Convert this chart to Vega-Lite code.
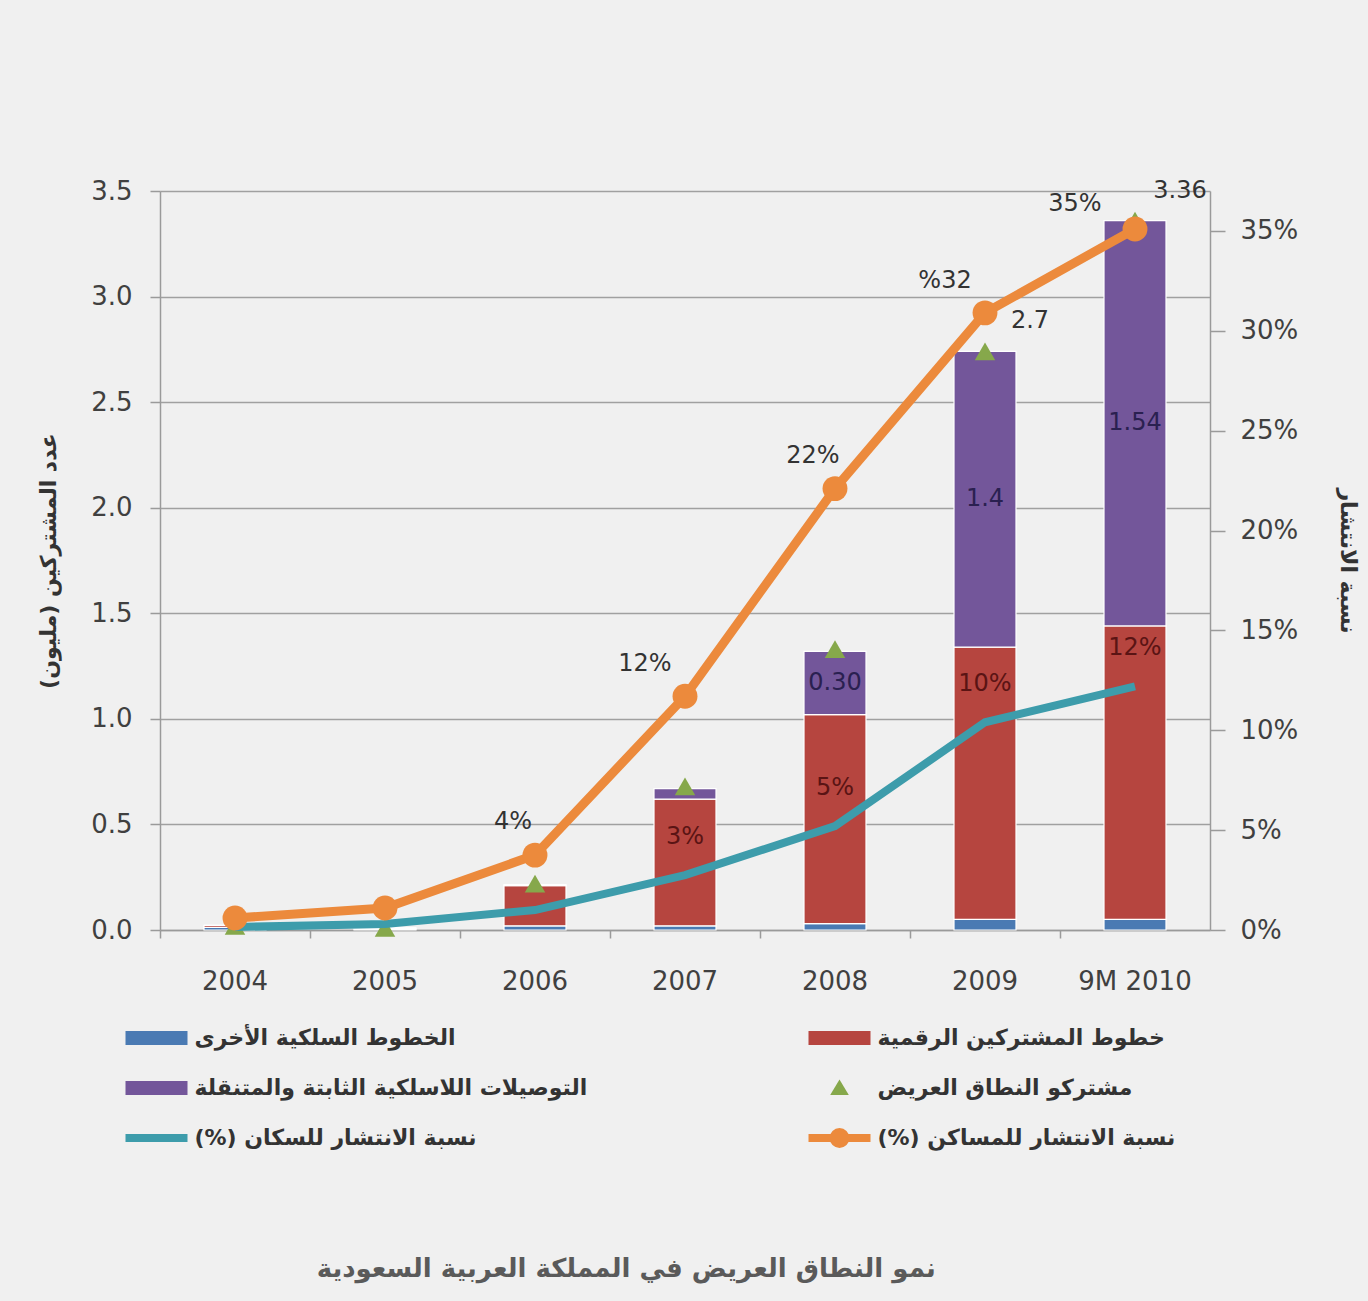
{
  "$schema": "https://vega.github.io/schema/vega-lite/v6.json",
  "width": 1050,
  "height": 739,
  "autosize": {"type": "none"},
  "padding": {"left": 160, "top": 191, "right": 158, "bottom": 371},
  "background": "#f0f0f0",
  "config": {
    "view": {"stroke": null},
    "font": "DejaVu Sans",
    "axis": {
      "labelFont": "DejaVu Sans", "labelFontSize": 26, "labelColor": "#404040",
      "titleFont": "DejaVu Sans", "titleFontSize": 22, "titleColor": "#333333", "titleFontWeight": "bold",
      "domainColor": "#9a9a9a", "tickColor": "#9a9a9a", "gridColor": "#a0a0a0",
      "gridWidth": 1.6, "domainWidth": 1.5, "tickWidth": 1.5
    }
  },
  "title": {
    "text": "نمو النطاق العريض في المملكة العربية السعودية",
    "orient": "bottom", "frame": "bounds", "offset": 93, "anchor": "middle", "dx": -72, "baseline": "top",
    "font": "DejaVu Sans", "fontSize": 26, "fontWeight": "bold", "color": "#5a5a5a"
  },
  "data": {"values": [
    {"year": "2004", "a_other_wired": 0.012, "b_dsl": 0.01, "c_wireless": 0, "total": 0.02, "house": 0.006, "pop": 0.0015},
    {"year": "2005", "a_other_wired": 0.005, "b_dsl": 0.005, "c_wireless": 0, "total": 0.01, "house": 0.011, "pop": 0.003},
    {"year": "2006", "a_other_wired": 0.02, "b_dsl": 0.19, "c_wireless": 0.005, "total": 0.22, "house": 0.0375, "pop": 0.01, "house_label": "4%"},
    {"year": "2007", "a_other_wired": 0.02, "b_dsl": 0.6, "c_wireless": 0.05, "total": 0.68, "house": 0.117, "pop": 0.0275, "house_label": "12%", "pop_label": "3%"},
    {"year": "2008", "a_other_wired": 0.03, "b_dsl": 0.99, "c_wireless": 0.3, "total": 1.33, "house": 0.221, "pop": 0.052, "house_label": "22%", "pop_label": "5%", "wl_label": "0.30"},
    {"year": "2009", "a_other_wired": 0.05, "b_dsl": 1.29, "c_wireless": 1.4, "total": 2.74, "house": 0.309, "pop": 0.104, "house_label": "%32", "pop_label": "10%", "wl_label": "1.4", "total_label": "2.7"},
    {"year": "9M 2010", "a_other_wired": 0.05, "b_dsl": 1.39, "c_wireless": 1.92, "total": 3.36, "house": 0.351, "pop": 0.122, "house_label": "35%", "pop_label": "12%", "wl_label": "1.54", "total_label": "3.36"}
  ]},
  "encoding": {
    "x": {
      "field": "year", "type": "nominal",
      "scale": {"domain": ["2004", "2005", "2006", "2007", "2008", "2009", "9M 2010"], "paddingInner": 0, "paddingOuter": 0},
      "axis": {"title": null, "labelAngle": 0, "bandPosition": 0, "tickSize": 8, "labelPadding": 30, "domain": true, "grid": false}
    }
  },
  "layer": [
    {
      "transform": [{"fold": ["a_other_wired", "b_dsl", "c_wireless"], "as": ["series", "subs"]}],
      "mark": {"type": "bar", "size": 62, "stroke": "#ffffff", "strokeWidth": 1.2},
      "encoding": {
        "y": {
          "field": "subs", "type": "quantitative", "stack": "zero",
          "scale": {"domain": [0, 3.5], "nice": false, "zero": true},
          "axis": {
            "orient": "left", "values": [0, 0.5, 1, 1.5, 2, 2.5, 3, 3.5], "format": ".1f",
            "grid": true, "tickSize": 10, "labelPadding": 18,
            "title": "عدد المشتركين (مليون)‏", "titlePadding": 30
          }
        },
        "color": {
          "field": "series", "type": "nominal",
          "scale": {
            "domain": ["a_other_wired", "b_dsl", "c_wireless", "total", "pop", "house"],
            "range": ["#4a7ab3", "#b6453f", "#73569a", "#86a84b", "#3d9cab", "#ec8a3c"]
          },
          "legend": {
            "title": null, "orient": "none", "legendX": -14.5, "legendY": 836, "direction": "horizontal",
            "columns": 2, "columnPadding": 205, "rowPadding": 0, "padding": 0,
            "symbolSize": 961, "labelOffset": 27,
            "symbolType": {"expr": "datum.value === 'total' ? 'M-2,-1.6M2,1.6M0,-0.55L0.6,0.45L-0.6,0.45Z' : datum.value === 'pop' ? 'M-2,-0.58M2,0.58M-2,0H2' : datum.value === 'house' ? 'M-2,-0.58M2,0.58M-2,0H2M-0.38,0A0.38,0.38 0 1,1 0.38,0A0.38,0.38 0 1,1 -0.38,0Z' : 'M-2,-1.6M2,1.6M-2,-0.45H2V0.45H-2Z'"},
            "symbolStrokeWidth": {"expr": "datum.value === 'pop' || datum.value === 'house' ? 8 : 0"},
            "symbolOpacity": 1,
            "labelFont": "DejaVu Sans", "labelFontSize": 22, "labelFontWeight": "bold", "labelColor": "#333333", "labelLimit": 700,
            "labelExpr": "{'a_other_wired': 'الخطوط السلكية الأخرى', 'b_dsl': 'خطوط المشتركين الرقمية', 'c_wireless': 'التوصيلات اللاسلكية الثابتة والمتنقلة', 'total': 'مشتركو النطاق العريض', 'pop': '(%) نسبة الانتشار للسكان', 'house': '(%) نسبة الانتشار للمساكن'}[datum.label]"
          }
        },
        "order": {"field": "series", "sort": "ascending"}
      }
    },
    {
      "mark": {"type": "point", "shape": "triangle-up", "filled": true, "size": 420, "opacity": 1},
      "encoding": {
        "y": {"field": "total", "type": "quantitative", "scale": {"domain": [0, 3.5], "nice": false}, "axis": null},
        "color": {"datum": "total"}
      }
    },
    {
      "transform": [{"fold": ["a_other_wired", "b_dsl", "c_wireless"], "as": ["series", "subs"]}],
      "mark": {"type": "text", "fontSize": 24, "color": "#2a2050", "baseline": "middle"},
      "encoding": {
        "y": {"field": "subs", "type": "quantitative", "stack": "zero", "bandPosition": 0.5, "scale": {"domain": [0, 3.5], "nice": false}, "axis": null},
        "detail": {"field": "series"},
        "order": {"field": "series", "sort": "ascending"},
        "text": {"condition": {"test": "datum.series === 'c_wireless' && datum.wl_label", "field": "wl_label"}, "value": ""}
      }
    },
    {
      "transform": [{"filter": "datum.total_label != null"}],
      "mark": {"type": "text", "fontSize": 24, "color": "#333333", "dx": 45, "dy": -30, "baseline": "middle"},
      "encoding": {
        "y": {"field": "total", "type": "quantitative", "scale": {"domain": [0, 3.5], "nice": false}, "axis": null},
        "text": {"field": "total_label"}
      }
    },
    {
      "mark": {"type": "line", "strokeWidth": 8},
      "encoding": {
        "y": {"field": "pop", "type": "quantitative", "scale": {"domain": [0, 0.37], "nice": false}, "axis": null},
        "color": {"datum": "pop"}
      }
    },
    {
      "mark": {"type": "line", "strokeWidth": 9},
      "encoding": {
        "y": {
          "field": "house", "type": "quantitative",
          "scale": {"domain": [0, 0.37], "nice": false},
          "axis": {
            "orient": "right", "values": [0, 0.05, 0.1, 0.15, 0.2, 0.25, 0.3, 0.35], "format": ".0%",
            "grid": false, "tickSize": 15, "labelPadding": 15,
            "title": "نسبة الانتشار", "titlePadding": 38
          }
        },
        "color": {"datum": "house"}
      }
    },
    {
      "mark": {"type": "circle", "size": 620, "opacity": 1},
      "encoding": {
        "y": {"field": "house", "type": "quantitative", "scale": {"domain": [0, 0.37], "nice": false}, "axis": null},
        "color": {"datum": "house"}
      }
    },
    {
      "transform": [{"filter": {"field": "year", "oneOf": ["2006", "2008"]}}],
      "mark": {"type": "text", "fontSize": 24, "color": "#333333", "dx": -22, "dy": -33, "baseline": "middle"},
      "encoding": {
        "y": {"field": "house", "type": "quantitative", "scale": {"domain": [0, 0.37], "nice": false}, "axis": null},
        "text": {"field": "house_label"}
      }
    },
    {
      "transform": [{"filter": {"field": "year", "oneOf": ["2007", "2009"]}}],
      "mark": {"type": "text", "fontSize": 24, "color": "#333333", "dx": -40, "dy": -32, "baseline": "middle"},
      "encoding": {
        "y": {"field": "house", "type": "quantitative", "scale": {"domain": [0, 0.37], "nice": false}, "axis": null},
        "text": {"field": "house_label"}
      }
    },
    {
      "transform": [{"filter": {"field": "year", "equal": "9M 2010"}}],
      "mark": {"type": "text", "fontSize": 24, "color": "#333333", "dx": -60, "dy": -25, "baseline": "middle"},
      "encoding": {
        "y": {"field": "house", "type": "quantitative", "scale": {"domain": [0, 0.37], "nice": false}, "axis": null},
        "text": {"field": "house_label"}
      }
    },
    {
      "transform": [{"filter": "datum.pop_label != null"}],
      "mark": {"type": "text", "fontSize": 24, "color": "#5a1414", "dy": -38, "baseline": "middle"},
      "encoding": {
        "y": {"field": "pop", "type": "quantitative", "scale": {"domain": [0, 0.37], "nice": false}, "axis": null},
        "text": {"field": "pop_label"}
      }
    }
  ],
  "resolve": {"scale": {"y": "independent"}}
}
